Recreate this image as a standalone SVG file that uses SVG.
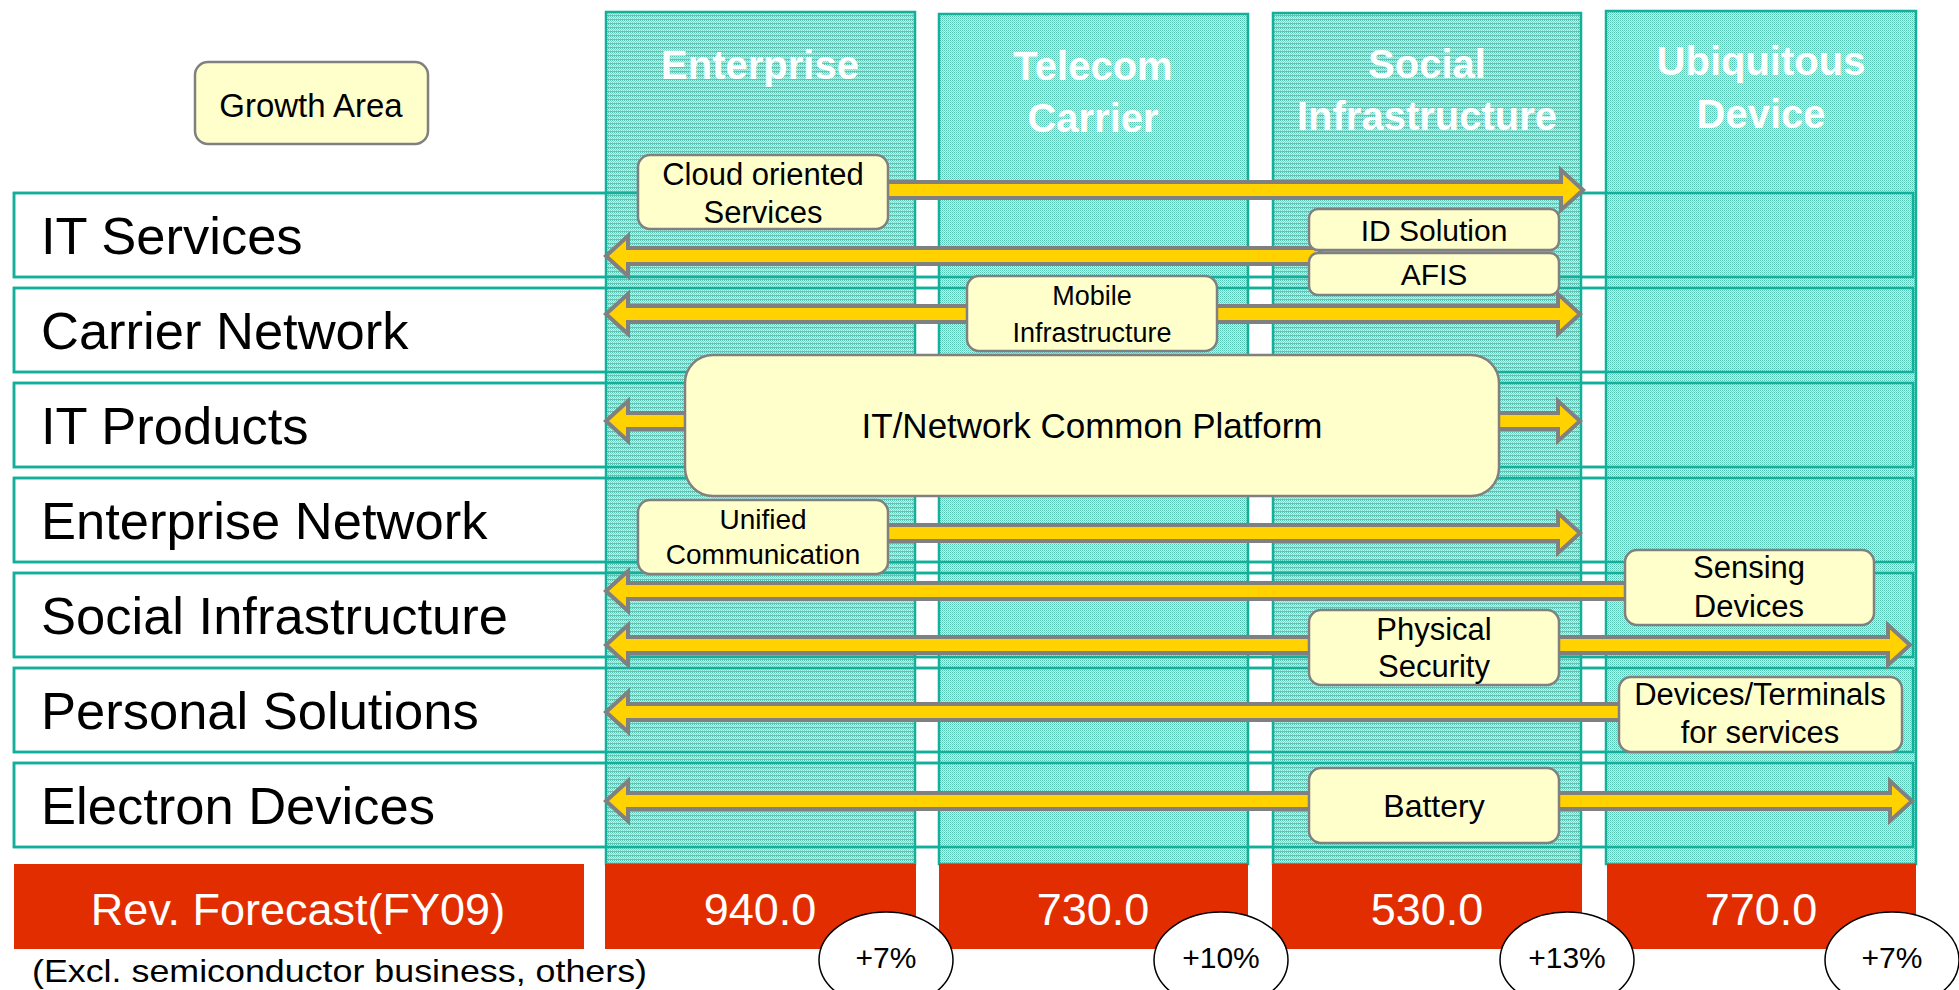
<svg xmlns="http://www.w3.org/2000/svg" width="1959" height="990" viewBox="0 0 1959 990">
<defs>
<pattern id="dots" width="2" height="2" patternUnits="userSpaceOnUse">
<rect width="2" height="2" fill="#c8eee8"/>
<rect x="0" y="0" width="1" height="1" fill="#55c3b2"/>
<rect x="1" y="1" width="1" height="1" fill="#85d5c9"/>
</pattern>
<pattern id="dotsH" width="2" height="4" patternUnits="userSpaceOnUse">
<rect width="2" height="4" fill="#c8eee8"/>
<rect x="0" y="0" width="1" height="1" fill="#55c3b2"/>
<rect x="1" y="1" width="1" height="1" fill="#85d5c9"/>
<rect x="0" y="2" width="1" height="1" fill="#85d5c9"/>
<rect x="0" y="3" width="2" height="1" fill="#5cc5b5"/>
</pattern>
<style>
.row{fill:#ffffff;stroke:#12b09b;stroke-width:2.5}
.rowline{fill:none;stroke:#12b09b;stroke-width:2.5}
.col{stroke:#12b09b;stroke-width:2.5}
.rowlbl{font-family:"Liberation Sans",Arial,sans-serif;font-size:52.5px;fill:#000}
.hdr{font-family:"Liberation Sans",Arial,sans-serif;font-size:40px;font-weight:bold;fill:#ffffff;text-anchor:middle}
.arrow{fill:#ffd200;stroke:#808080;stroke-width:4;stroke-linejoin:miter}
.box{fill:#ffffcc;stroke:#808080;stroke-width:2.5}
.bt{font-family:"Liberation Sans",Arial,sans-serif;fill:#000;text-anchor:middle}
.red{fill:#e22d00}
.rt{font-family:"Liberation Sans",Arial,sans-serif;font-size:45px;fill:#fff;text-anchor:middle}
.pct{fill:#fff;stroke:#000;stroke-width:1.5}
.pt{font-family:"Liberation Sans",Arial,sans-serif;font-size:30px;fill:#000;text-anchor:middle}
</style>
</defs>

<g id="rows">
<rect class="row" x="14" y="193" width="1899" height="84"/>
<rect class="row" x="14" y="288" width="1899" height="84"/>
<rect class="row" x="14" y="383" width="1899" height="84"/>
<rect class="row" x="14" y="478" width="1899" height="84"/>
<rect class="row" x="14" y="573" width="1899" height="84"/>
<rect class="row" x="14" y="668" width="1899" height="84"/>
<rect class="row" x="14" y="763" width="1899" height="84"/>
</g>

<g id="col-enterprise">
<rect class="col" x="606" y="12" width="309" height="852" fill="url(#dotsH)"/>
<text class="hdr" x="760" y="79">Enterprise</text>
</g>
<g id="col-telecom">
<rect class="col" x="939" y="14" width="309" height="850" fill="url(#dots)"/>
<text class="hdr" x="1093" y="80">Telecom</text>
<text class="hdr" x="1093" y="132">Carrier</text>
</g>
<g id="col-social">
<rect class="col" x="1273" y="13" width="308" height="851" fill="url(#dotsH)"/>
<text class="hdr" x="1427" y="78">Social</text>
<text class="hdr" x="1427" y="130">Infrastructure</text>
</g>
<g id="col-ubiquitous">
<rect class="col" x="1606" y="11" width="310" height="853" fill="url(#dots)"/>
<text class="hdr" x="1761" y="75">Ubiquitous</text>
<text class="hdr" x="1761" y="128">Device</text>
</g>

<g id="row-lines">
<rect class="rowline" x="14" y="193" width="1899" height="84"/>
<rect class="rowline" x="14" y="288" width="1899" height="84"/>
<rect class="rowline" x="14" y="383" width="1899" height="84"/>
<rect class="rowline" x="14" y="478" width="1899" height="84"/>
<rect class="rowline" x="14" y="573" width="1899" height="84"/>
<rect class="rowline" x="14" y="668" width="1899" height="84"/>
<rect class="rowline" x="14" y="763" width="1899" height="84"/>
</g>

<g id="row-labels">
<text class="rowlbl" x="41" y="254">IT Services</text>
<text class="rowlbl" x="41" y="349">Carrier Network</text>
<text class="rowlbl" x="41" y="444">IT Products</text>
<text class="rowlbl" x="41" y="539">Enterprise Network</text>
<text class="rowlbl" x="41" y="634">Social Infrastructure</text>
<text class="rowlbl" x="41" y="729">Personal Solutions</text>
<text class="rowlbl" x="41" y="824">Electron Devices</text>
</g>

<g id="connectors">
<polygon class="arrow" points="880,182 1561,182 1561,170 1583,190 1561,210 1561,198 880,198"/>
<polygon class="arrow" points="606,256 628,236 628,248 1320,248 1320,264 628,264 628,276"/>
<polygon class="arrow" points="606,314 628,294 628,306 1558,306 1558,294 1580,314 1558,334 1558,322 628,322 628,334"/>
<polygon class="arrow" points="606,421 628,401 628,413 1558,413 1558,401 1580,421 1558,441 1558,429 628,429 628,441"/>
<polygon class="arrow" points="880,525 1558,525 1558,513 1580,533 1558,553 1558,541 880,541"/>
<polygon class="arrow" points="606,591 628,571 628,583 1635,583 1635,599 628,599 628,611"/>
<polygon class="arrow" points="606,645 628,625 628,637 1888,637 1888,625 1910,645 1888,665 1888,653 628,653 628,665"/>
<polygon class="arrow" points="606,712 628,692 628,704 1630,704 1630,720 628,720 628,732"/>
<polygon class="arrow" points="606,801 628,781 628,793 1890,793 1890,781 1912,801 1890,821 1890,809 628,809 628,821"/>
</g>

<g id="growth-area">
<rect class="box" x="195" y="62" width="233" height="82" rx="13"/>
<text class="bt" x="311" y="117" font-size="33">Growth Area</text>
</g>
<g id="cloud">
<rect class="box" x="638" y="155" width="250" height="74" rx="12"/>
<text class="bt" x="763" y="185" font-size="31">Cloud oriented</text>
<text class="bt" x="763" y="223" font-size="31">Services</text>
</g>
<g id="id-solution">
<rect class="box" x="1309" y="209" width="250" height="41" rx="9"/>
<text class="bt" x="1434" y="241" font-size="30">ID Solution</text>
</g>
<g id="afis">
<rect class="box" x="1309" y="253" width="250" height="42" rx="9"/>
<text class="bt" x="1434" y="285" font-size="30">AFIS</text>
</g>
<g id="mobile">
<rect class="box" x="967" y="276" width="250" height="75" rx="12"/>
<text class="bt" x="1092" y="305" font-size="27">Mobile</text>
<text class="bt" x="1092" y="342" font-size="27">Infrastructure</text>
</g>
<g id="platform">
<rect class="box" x="685" y="355" width="814" height="141" rx="28"/>
<text class="bt" x="1092" y="438" font-size="35">IT/Network Common Platform</text>
</g>
<g id="unified">
<rect class="box" x="638" y="500" width="250" height="74" rx="12"/>
<text class="bt" x="763" y="529" font-size="28">Unified</text>
<text class="bt" x="763" y="564" font-size="28">Communication</text>
</g>
<g id="sensing">
<rect class="box" x="1625" y="550" width="249" height="75" rx="12"/>
<text class="bt" x="1749" y="578" font-size="31">Sensing</text>
<text class="bt" x="1749" y="617" font-size="31">Devices</text>
</g>
<g id="physical">
<rect class="box" x="1309" y="610" width="250" height="75" rx="12"/>
<text class="bt" x="1434" y="640" font-size="31">Physical</text>
<text class="bt" x="1434" y="677" font-size="31">Security</text>
</g>
<g id="terminals">
<rect class="box" x="1619" y="677" width="283" height="75" rx="12"/>
<text class="bt" x="1760" y="705" font-size="31">Devices/Terminals</text>
<text class="bt" x="1760" y="743" font-size="31">for services</text>
</g>
<g id="battery">
<rect class="box" x="1309" y="768" width="250" height="75" rx="12"/>
<text class="bt" x="1434" y="817" font-size="32">Battery</text>
</g>

<g id="forecast">
<rect class="red" x="14" y="864" width="570" height="85"/>
<text class="rt" x="298" y="925">Rev. Forecast(FY09)</text>
<rect class="red" x="605" y="864" width="311" height="85"/>
<text class="rt" x="760" y="925">940.0</text>
<rect class="red" x="939" y="864" width="309" height="85"/>
<text class="rt" x="1093" y="925">730.0</text>
<rect class="red" x="1272" y="864" width="310" height="85"/>
<text class="rt" x="1427" y="925">530.0</text>
<rect class="red" x="1607" y="864" width="309" height="85"/>
<text class="rt" x="1761" y="925">770.0</text>
</g>

<g id="growth-rates">
<ellipse class="pct" cx="886" cy="960" rx="67" ry="48"/>
<text class="pt" x="886" y="968">+7%</text>
<ellipse class="pct" cx="1221" cy="960" rx="67" ry="48"/>
<text class="pt" x="1221" y="968">+10%</text>
<ellipse class="pct" cx="1567" cy="960" rx="67" ry="48"/>
<text class="pt" x="1567" y="968">+13%</text>
<ellipse class="pct" cx="1892" cy="960" rx="67" ry="48"/>
<text class="pt" x="1892" y="968">+7%</text>
</g>

<g id="footnote">
<text x="32" y="982" font-family="Liberation Sans, Arial, sans-serif" font-size="32" fill="#000" textLength="615" lengthAdjust="spacingAndGlyphs">(Excl. semiconductor business, others)</text>
</g>
</svg>
